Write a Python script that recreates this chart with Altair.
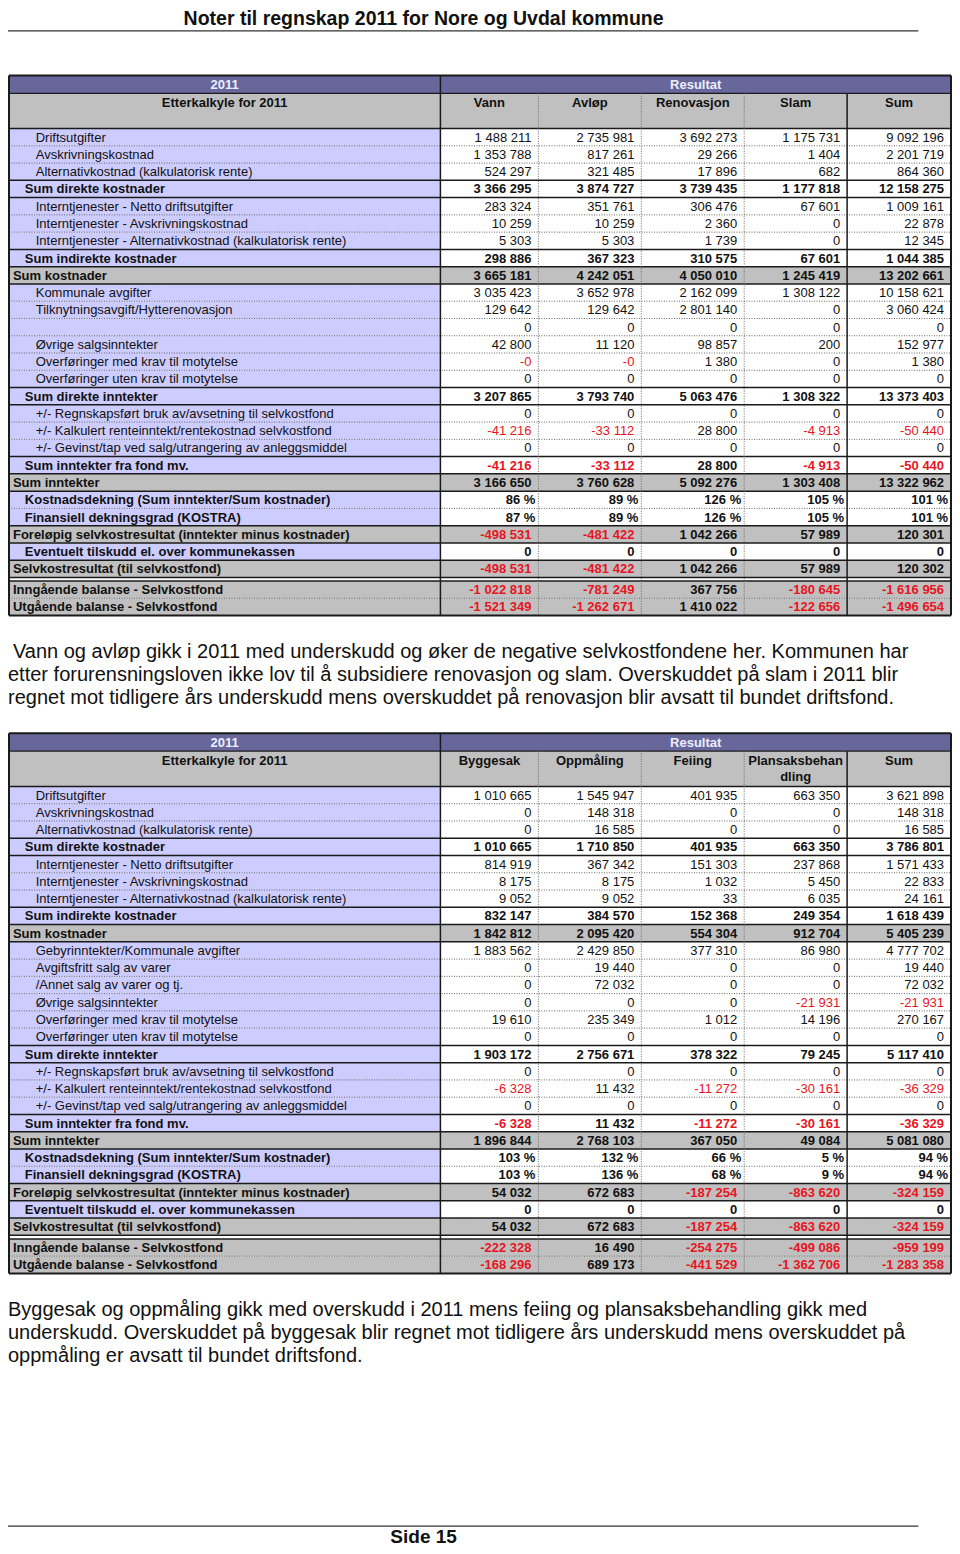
import math
import altair as alt
import pandas as pd

# ---------------- text content ----------------
PAGE_TITLE = "Noter til regnskap 2011 for Nore og Uvdal kommune"
PAGE_FOOTER = "Side 15"
YEAR_LABEL = "2011"
RESULT_LABEL = "Resultat"
SUBTITLE = "Etterkalkyle for 2011"

LABELS_1 = [
    "Driftsutgifter", "Avskrivningskostnad", "Alternativkostnad (kalkulatorisk rente)",
    "Sum direkte kostnader",
    "Interntjenester - Netto driftsutgifter", "Interntjenester - Avskrivningskostnad",
    "Interntjenester - Alternativkostnad (kalkulatorisk rente)",
    "Sum indirekte kostnader", "Sum kostnader",
    "Kommunale avgifter", "Tilknytningsavgift/Hytterenovasjon", "",
    "Øvrige salgsinntekter", "Overføringer med krav til motytelse",
    "Overføringer uten krav til motytelse", "Sum direkte inntekter",
    "+/- Regnskapsført bruk av/avsetning til selvkostfond",
    "+/- Kalkulert renteinntekt/rentekostnad selvkostfond",
    "+/- Gevinst/tap ved salg/utrangering av anleggsmiddel",
    "Sum inntekter fra fond mv.", "Sum inntekter",
    "Kostnadsdekning (Sum inntekter/Sum kostnader)", "Finansiell dekningsgrad (KOSTRA)",
    "Foreløpig selvkostresultat (inntekter minus kostnader)",
    "Eventuelt tilskudd el. over kommunekassen", "Selvkostresultat (til selvkostfond)",
    "Inngående balanse - Selvkostfond", "Utgående balanse - Selvkostfond",
]
LABELS_2 = list(LABELS_1)
LABELS_2[9] = "Gebyrinntekter/Kommunale avgifter"
LABELS_2[10] = "Avgiftsfritt salg av varer"
LABELS_2[11] = "/Annet salg av varer og tj."

LEVEL = [2, 2, 2, 1, 2, 2, 2, 1, 0, 2, 2, 2, 2, 2, 2, 1, 2, 2, 2, 1, 0, 1, 1, 0, 1, 0, 0, 0]
GROUP = [0, 0, 0, 1, 2, 2, 2, 3, 4, 5, 5, 5, 5, 5, 5, 6, 7, 7, 7, 8, 9, 10, 10, 11, 12, 13, 14, 14]
GRAY_ROWS = [8, 20, 23, 25, 26, 27]
PCT_ROWS = [21, 22]

COLS_1 = [["Vann"], ["Avløp"], ["Renovasjon"], ["Slam"], ["Sum"]]
VANN = [1488211, 1353788, 524297, 3366295, 283324, 10259, 5303, 298886, 3665181, 3035423, 129642, 0,
        42800, -0.0, 0, 3207865, 0, -41216, 0, -41216, 3166650, 86, 87, -498531, 0, -498531,
        -1022818, -1521349]
AVLOP = [2735981, 817261, 321485, 3874727, 351761, 10259, 5303, 367323, 4242051, 3652978, 129642, 0,
         11120, -0.0, 0, 3793740, 0, -33112, 0, -33112, 3760628, 89, 89, -481422, 0, -481422,
         -781249, -1262671]
RENOVASJON = [3692273, 29266, 17896, 3739435, 306476, 2360, 1739, 310575, 4050010, 2162099, 2801140, 0,
              98857, 1380, 0, 5063476, 0, 28800, 0, 28800, 5092276, 126, 126, 1042266, 0, 1042266,
              367756, 1410022]
SLAM = [1175731, 1404, 682, 1177818, 67601, 0, 0, 67601, 1245419, 1308122, 0, 0,
        200, 0, 0, 1308322, 0, -4913, 0, -4913, 1303408, 105, 105, 57989, 0, 57989,
        -180645, -122656]
SUM_1 = [9092196, 2201719, 864360, 12158275, 1009161, 22878, 12345, 1044385, 13202661, 10158621, 3060424, 0,
         152977, 1380, 0, 13373403, 0, -50440, 0, -50440, 13322962, 101, 101, 120301, 0, 120302,
         -1616956, -1496654]

COLS_2 = [["Byggesak"], ["Oppmåling"], ["Feiing"], ["Plansaksbehan", "dling"], ["Sum"]]
BYGGESAK = [1010665, 0, 0, 1010665, 814919, 8175, 9052, 832147, 1842812, 1883562, 0, 0,
            0, 19610, 0, 1903172, 0, -6328, 0, -6328, 1896844, 103, 103, 54032, 0, 54032,
            -222328, -168296]
OPPMALING = [1545947, 148318, 16585, 1710850, 367342, 8175, 9052, 384570, 2095420, 2429850, 19440, 72032,
             0, 235349, 0, 2756671, 0, 11432, 0, 11432, 2768103, 132, 136, 672683, 0, 672683,
             16490, 689173]
FEIING = [401935, 0, 0, 401935, 151303, 1032, 33, 152368, 554304, 377310, 0, 0,
          0, 1012, 0, 378322, 0, -11272, 0, -11272, 367050, 66, 68, -187254, 0, -187254,
          -254275, -441529]
PLANSAK = [663350, 0, 0, 663350, 237868, 5450, 6035, 249354, 912704, 86980, 0, 0,
           -21931, 14196, 0, 79245, 0, -30161, 0, -30161, 49084, 5, 9, -863620, 0, -863620,
           -499086, -1362706]
SUM_2 = [3621898, 148318, 16585, 3786801, 1571433, 22833, 24161, 1618439, 5405239, 4777702, 19440, 72032,
         -21931, 270167, 0, 5117410, 0, -36329, 0, -36329, 5081080, 94, 94, -324159, 0, -324159,
         -959199, -1283358]

PARA_1 = [
    "Vann og avløp gikk i 2011 med underskudd og øker de negative selvkostfondene her. Kommunen har",
    "etter forurensningsloven ikke lov til å subsidiere renovasjon og slam.  Overskuddet på slam i 2011 blir",
    "regnet mot tidligere års underskudd mens overskuddet på renovasjon blir avsatt til bundet driftsfond.",
]
PARA_2 = [
    "Byggesak og oppmåling gikk med overskudd i 2011 mens feiing og plansaksbehandling gikk med",
    "underskudd. Overskuddet på byggesak blir regnet mot tidligere års underskudd mens overskuddet på",
    "oppmåling er avsatt til bundet driftsfond.",
]

# ---------------- style / layout ----------------
FONT = "Liberation Sans"
PURPLE = "#67679c"
LAVENDER = "#ccccff"
GRAY = "#c0c0c0"
WHITE = "#ffffff"
RED = "#e8141e"
BLACK = "#111111"
HEAD_TXT = "#eeeeff"
LINE = "#1a1a1a"
DOT = "#666666"

LEFT, LABEL_RIGHT, RIGHT = 5, 441, 957
COL_EDGES = [441, 540, 644, 748, 852, 957]
ROW_H = 17.4
HEAD1_H = 18
HEAD_H = 53.5
GAP = 3.6
INDENT = {0: 9, 1: 21, 2: 32}
CELL_FS = 13
PARA_FS = 20

rects, rules, texts = [], [], []


def rule(x, x2, y, y2, dash="solid", w=1.0, color=LINE):
    rules.append(dict(x=x, x2=x2, y=y, y2=y2, dash=dash, w=w, color=color))


def text(x, y, s, align="left", bold=False, color=BLACK, size=CELL_FS):
    texts.append(dict(x=x, y=y, text=s, align=align, bold=bold, color=color, size=size))


def fmt(v, pct):
    neg = v < 0 or (v == 0 and math.copysign(1.0, v) < 0)
    s = f"{abs(int(v)):,}".replace(",", " ")
    if pct:
        s += " %"
    return ("-" if neg else "") + s, neg


def build_table(top, labels, cols, series):
    def rtop(i):
        return top + HEAD_H + i * ROW_H + (GAP if i >= 26 else 0)

    bottom = rtop(28)
    rects.append(dict(x=LEFT, x2=RIGHT, y=top, y2=top + HEAD1_H, fill=PURPLE))
    rects.append(dict(x=LEFT, x2=RIGHT, y=top + HEAD1_H, y2=top + HEAD_H, fill=GRAY))
    text((LEFT + LABEL_RIGHT) / 2, top + 9.5, YEAR_LABEL, "center", True, HEAD_TXT)
    text((LABEL_RIGHT + RIGHT) / 2, top + 9.5, RESULT_LABEL, "center", True, HEAD_TXT)
    text((LEFT + LABEL_RIGHT) / 2, top + 27.5, SUBTITLE, "center", True)
    for c, lines in enumerate(cols):
        mid = (COL_EDGES[c] + COL_EDGES[c + 1]) / 2
        for k, ln in enumerate(lines):
            text(mid, top + 27.5 + k * 17, ln, "center", True)

    for i, lab in enumerate(labels):
        y0 = rtop(i)
        y1 = y0 + ROW_H
        yc = (y0 + y1) / 2
        gray = i in GRAY_ROWS
        rects.append(dict(x=LEFT, x2=LABEL_RIGHT, y=y0, y2=y1, fill=GRAY if gray else LAVENDER))
        rects.append(dict(x=LABEL_RIGHT, x2=RIGHT, y=y0, y2=y1, fill=GRAY if gray else WHITE))
        bold = LEVEL[i] <= 1
        if lab:
            text(INDENT[LEVEL[i]], yc + 0.5, lab, "left", bold)
        pct = i in PCT_ROWS
        for c, vals in enumerate(series):
            s, neg = fmt(vals[i], pct)
            xr = COL_EDGES[c + 1] - (3 if pct else 7)
            text(xr, yc + 0.5, s, "right", bold, RED if neg else BLACK)

    rule(LEFT, RIGHT, top, top, w=2)
    rule(LEFT, RIGHT, top + HEAD1_H, top + HEAD1_H, w=1.2)
    rule(LEFT, RIGHT, top + HEAD_H, top + HEAD_H, w=1.5)
    for i in range(25):
        y = rtop(i + 1)
        if GROUP[i] != GROUP[i + 1]:
            rule(LEFT, RIGHT, y, y, w=1.5)
        else:
            rule(LEFT, RIGHT, y, y, dash="dotted", w=1, color=DOT)
    rule(LEFT, RIGHT, rtop(26) - GAP, rtop(26) - GAP, w=1.5)
    rule(LEFT, RIGHT, rtop(26), rtop(26), w=1.5)
    rule(LEFT, RIGHT, rtop(27), rtop(27), dash="dotted", w=1, color=DOT)
    rule(LEFT, RIGHT, bottom, bottom, w=2)
    rule(LEFT, LEFT, top, bottom, w=2)
    rule(RIGHT, RIGHT, top, bottom, w=2)
    rule(LABEL_RIGHT, LABEL_RIGHT, top, bottom, w=1.5)
    rule(COL_EDGES[4], COL_EDGES[4], top + HEAD1_H, bottom, w=1.5)
    for xe in COL_EDGES[1:4]:
        rule(xe, xe, top + HEAD1_H, bottom, dash="dotted", w=1, color=DOT)
    return bottom


# page header / footer
text(424, 13.5, PAGE_TITLE, "center", True, BLACK, 19.5)
rule(0, 924, 25, 25, w=1.2, color="#333333")
rule(0, 924, 1532, 1532, w=1.2, color="#333333")
text(424, 1543, PAGE_FOOTER, "center", True, BLACK, 19)

b1 = build_table(70, LABELS_1, COLS_1, [VANN, AVLOP, RENOVASJON, SLAM, SUM_1])
for k, ln in enumerate(PARA_1):
    text(9 if k == 0 else 4, b1 + 37 + k * 23, ln, "left", False, BLACK, PARA_FS)

b2 = build_table(733, LABELS_2, COLS_2, [BYGGESAK, OPPMALING, FEIING, PLANSAK, SUM_2])
for k, ln in enumerate(PARA_2):
    text(4, b2 + 37 + k * 23, ln, "left", False, BLACK, PARA_FS)

df_rect = pd.DataFrame(rects)
df_rule = pd.DataFrame(rules)
df_text = pd.DataFrame(texts)

XS = alt.Scale(domain=[4, 958], nice=False, zero=False)
YS = alt.Scale(domain=[2, 1552], nice=False, zero=False, reverse=True)

rect_layer = alt.Chart(df_rect).mark_rect(strokeWidth=0).encode(
    x=alt.X("x:Q", scale=XS, axis=None), x2="x2:Q",
    y=alt.Y("y:Q", scale=YS, axis=None), y2="y2:Q",
    fill=alt.Fill("fill:N", scale=None),
)

rule_layer = alt.Chart(df_rule).mark_rule().encode(
    x=alt.X("x:Q", scale=XS, axis=None), x2="x2:Q",
    y=alt.Y("y:Q", scale=YS, axis=None), y2="y2:Q",
    stroke=alt.Stroke("color:N", scale=None),
    strokeWidth=alt.StrokeWidth("w:Q", scale=None),
    strokeDash=alt.StrokeDash("dash:N", scale=alt.Scale(domain=["solid", "dotted"],
                                                        range=[[1, 0], [1, 1.5]]), legend=None),
)


def text_layer(align, bold):
    sub = df_text[(df_text["align"] == align) & (df_text["bold"] == bold)]
    return alt.Chart(sub).mark_text(align=align, baseline="middle", font=FONT,
                                    fontWeight="bold" if bold else "normal").encode(
        x=alt.X("x:Q", scale=XS, axis=None),
        y=alt.Y("y:Q", scale=YS, axis=None),
        text="text:N",
        color=alt.Color("color:N", scale=None),
        size=alt.Size("size:Q", scale=None),
    )


layers = [rect_layer, rule_layer]
for al in ["left", "right", "center"]:
    for bd in [False, True]:
        if len(df_text[(df_text["align"] == al) & (df_text["bold"] == bd)]):
            layers.append(text_layer(al, bd))

chart = alt.layer(*layers).properties(
    width=944, height=1538, padding=0,
    autosize=alt.AutoSizeParams(type="none"),
    background="white",
).configure_view(stroke=None)

chart.save("out.html", embed_options={"renderer": "svg", "actions": False})
